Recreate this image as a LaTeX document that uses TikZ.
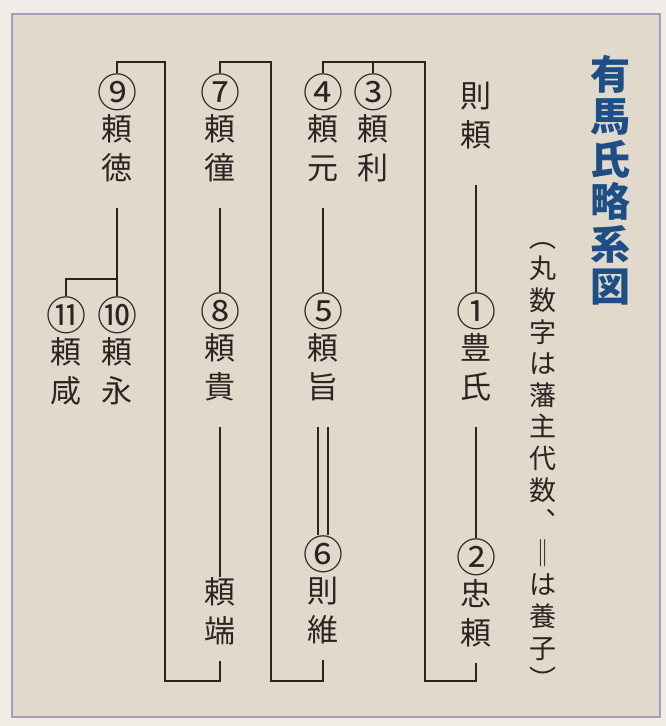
\documentclass[tikz,border=0pt]{standalone}
\usepackage{fontspec}
\newfontfamily\jpfont{Noto Sans CJK JP}
\definecolor{paper}{HTML}{E2D9CD}
\definecolor{outer}{HTML}{F1ECE6}
\definecolor{frameline}{HTML}{A59DBE}
\definecolor{ink}{HTML}{2B2522}
\definecolor{titleblue}{HTML}{1D4F86}
\newcommand\maru[1]{{\fontsize{40}{39}\selectfont#1}\\[-6pt]}
\tikzset{
  lord/.style = {align=center, inner sep=0pt, anchor=north, text=ink, font=\jpfont\fontsize{31}{39}\selectfont},
  caption/.style = {lord, text=titleblue, font=\jpfont\bfseries\fontsize{40}{42.5}\selectfont},
  memo/.style = {lord, font=\jpfont\fontsize{27}{31.6}\selectfont},
  link/.style = {draw=ink, line width=1.3pt},
  bracket/.style = {link, line width=1.8pt},
}

\begin{document}
\begin{tikzpicture}[x=1pt, y=-1pt]
\fill[outer] (0,0) rectangle (666,726);
\draw[frameline, fill=paper, line width=2.5pt] (12,14) rectangle (660,717);

% title and note
\node[caption] (title) at (610,55) {有\\馬\\氏\\略\\系\\図};
\node[memo] (memo) at (543,242) {︵\\丸\\数\\字\\は\\藩\\主\\代\\数\\︑\\‖\\は\\養\\子\\︶};

% lords
\node[lord] (n0) at (476,82) {則\\頼};
\node[lord] (n1) at (476,292) {\maru{①}豊\\氏};
\node[lord] (n2) at (476,538) {\maru{②}忠\\頼};
\node[lord] (n3) at (373,73) {\maru{③}頼\\利};
\node[lord] (n4) at (323,73) {\maru{④}頼\\元};
\node[lord] (n5) at (323,292) {\maru{⑤}頼\\旨};
\node[lord] (n6) at (323,535) {\maru{⑥}則\\維};
\node[lord] (n7) at (220,73) {\maru{⑦}頼\\徸};
\node[lord] (n8) at (220,292) {\maru{⑧}頼\\貴};
\node[lord] (nx) at (220,577) {頼\\端};
\node[lord] (n9) at (117,73) {\maru{⑨}頼\\徳};
\node[lord] (n10) at (117,296) {\maru{⑩}頼\\永};
\node[lord] (n11) at (66,296) {\maru{⑪}頼\\咸};

\coordinate (low) at (0,681);
\coordinate (high) at (0,62);
\coordinate (fork) at (0,279);
\coordinate (k1) at (425,62);
\coordinate (k2) at (271,62);
\coordinate (k3) at (165,62);

% parent to child
\draw[link, shorten <=36pt] (n0.south) -- (n1.north);
\draw[link, shorten <=26pt] (n1.south) -- (n2.north);
\draw[link, shorten <=26pt] (n4.south) -- (n5.north);
\draw[link, double=paper, double distance=8.5pt, shorten <=26pt] (n5.south) -- (n6.north);
\draw[link, shorten <=26pt] (n7.south) -- (n8.north);
\draw[link, shorten <=26pt] (n8.south) -- (nx.north);
\draw[link, shorten <=26pt] (n9.south) -- (n10.north);
\draw[link] (n10.north |- fork) -| (n11.north);

% heirs from outside
\draw[bracket, shorten <=16pt] (n2.south) -- (n2.south |- low) -| (k1) -| (n4.north);
\draw[bracket] (n3.north |- high) -- (n3.north);
\draw[bracket, shorten <=16pt] (n6.south) -- (n6.south |- low) -| (k2) -| (n7.north);
\draw[bracket, shorten <=16pt] (nx.south) -- (nx.south |- low) -| (k3) -| (n9.north);
\end{tikzpicture}
\end{document}
